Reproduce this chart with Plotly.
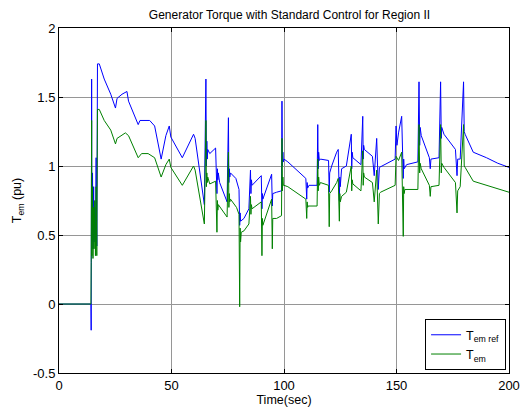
import plotly.graph_objects as go

# Time (sec) and torque (pu) readings for T_em ref (blue)
t_ref = [0, 14.2, 14.3, 14.5, 14.6, 14.9, 15.1, 15.4, 15.6, 15.9, 16.2, 16.5, 16.8, 17.1, 17.9,
         20.1, 23.0, 25.1, 25.8, 28.0, 30.2, 30.9, 35.2, 36.0, 40.3, 42.5, 45.4, 47.5, 49.0, 49.7,
         54.8, 59.8, 60.5, 64.6, 65.3, 65.5, 65.7, 65.9, 66.1, 67.0, 69.6, 70.2, 70.4, 70.6, 70.8,
         71.4, 74.7, 75.3, 75.5, 75.7, 75.9, 76.2, 78.6, 80.0, 80.3, 80.5, 80.7, 82.2, 84.4, 85.1,
         85.3, 85.5, 85.8, 89.9, 90.2, 90.4, 90.6, 94.5, 94.8, 95.0, 96.7, 98.9, 99.1, 99.3, 99.5,
         99.7, 100.0, 101.7, 109.7, 110.1, 110.3, 110.5, 111.1, 114.7, 115.0, 115.2, 115.4, 115.7,
         116.2, 119.8, 120.1, 120.3, 121.2, 123.4, 124.1, 124.6, 124.8, 125.0, 125.6, 127.7, 129.9,
         130.1, 130.3, 130.6, 134.2, 135.0, 135.2, 135.4, 135.7, 139.3, 140.1, 141.2, 141.9, 142.1,
         142.4, 149.4, 149.8, 150.2, 150.9, 152.3, 153.0, 153.2, 153.4, 154.5, 159.5, 160.0, 160.3,
         160.5, 161.0, 164.6, 165.0, 165.3, 168.9, 169.6, 169.9, 170.1, 171.1, 176.2, 176.9, 177.2,
         178.3, 179.8, 180.1, 180.5, 184.1, 190.0, 195.0, 200.0]
v_ref = [0, 0, -0.19, 1.63, 0.45, 0.95, 0.40, 0.85, 0.45, 0.70, 0.45, 1.06, 0.42, 1.74, 1.74,
         1.63, 1.52, 1.42, 1.49, 1.52, 1.54, 1.47, 1.30, 1.33, 1.33, 1.29, 1.05, 1.22, 1.29, 1.21,
         1.06, 1.23, 1.20, 0.72, 1.63, 1.00, 1.18, 1.05, 1.12, 1.09, 1.13, 0.80, 0.98, 0.90, 0.95,
         0.88, 0.74, 1.35, 0.88, 0.98, 0.92, 0.95, 0.91, 0.83, 0.57, 0.66, 0.60, 0.62, 0.69, 0.97,
         0.80, 0.90, 0.86, 0.93, 0.69, 0.80, 0.76, 0.94, 0.71, 0.80, 0.81, 0.82, 1.47, 1.00, 1.10,
         1.03, 1.05, 1.03, 0.91, 0.76, 0.88, 0.84, 0.86, 0.86, 1.30, 0.98, 1.10, 1.04,
         1.05, 1.04, 0.81, 0.95, 1.00, 1.10, 1.12, 0.75, 0.92, 0.85, 0.98, 1.00, 1.23,
         0.98, 1.10, 1.06, 1.01, 1.36, 1.05, 1.15, 1.12, 1.07, 0.93, 1.20, 0.83, 0.95,
         0.99, 1.05, 1.29, 1.15, 1.24, 1.36, 0.91, 1.05, 0.98, 1.01, 1.03, 1.61, 1.15,
         1.28, 1.22, 1.06, 0.98, 1.05, 1.06, 1.61, 1.20, 1.28, 1.23, 1.12, 0.93, 1.05,
         1.05, 1.61, 1.25, 1.23, 1.10, 1.06, 1.02, 0.99]

# Time (sec) and torque (pu) readings for T_em (green)
t_em = [0, 14.2, 14.3, 14.5, 14.6, 14.9, 15.1, 15.4, 15.6, 15.9, 16.2, 16.5, 16.8, 17.1, 17.9,
        20.1, 23.0, 25.1, 25.8, 29.5, 30.9, 35.2, 36.7, 39.6, 42.5, 45.4, 47.5, 49.0, 49.7,
        54.8, 59.8, 60.5, 64.6, 65.3, 65.5, 65.7, 65.9, 66.1, 67.0, 69.6, 70.2, 70.4, 70.6, 70.8,
        74.7, 75.3, 75.5, 75.7, 75.9, 76.2, 78.9, 80.0, 80.3, 80.5, 80.7, 81.0, 82.2, 84.4, 85.1,
        85.3, 85.5, 85.8, 89.9, 90.2, 90.4, 90.6, 94.5, 94.8, 95.0, 96.7, 98.9, 99.1, 99.3, 99.5,
        99.7, 100.0, 101.7, 109.7, 110.1, 110.3, 110.5, 110.7, 114.7, 115.0, 115.2, 115.4, 115.7,
        116.2, 119.8, 120.1, 120.3, 121.2, 123.4, 124.1, 124.6, 124.8, 125.0, 125.6, 127.7, 129.9,
        130.1, 130.3, 130.6, 134.2, 135.0, 135.2, 135.4, 135.7, 139.3, 140.1, 141.2, 141.9, 142.1,
        142.4, 142.9, 149.4, 149.8, 150.9, 152.3, 153.0, 153.2, 153.4, 153.7, 159.5, 160.0, 160.3,
        160.5, 161.0, 164.6, 165.0, 165.3, 168.9, 169.6, 169.9, 170.1, 171.1, 176.2, 176.9, 177.2,
        178.3, 179.8, 180.1, 180.5, 184.1, 190.0, 195.0, 200.0]
v_em = [0, 0, 0.30, 1.33, 0.35, 0.85, 0.33, 0.70, 0.40, 0.75, 0.35, 0.85, 0.35, 1.41, 1.41,
        1.33, 1.26, 1.16, 1.20, 1.24, 1.22, 1.06, 1.09, 1.09, 1.06, 0.92, 1.01, 1.05, 0.99,
        0.86, 1.00, 0.97, 0.58, 1.33, 0.85, 0.95, 0.88, 0.92, 0.87, 0.89, 0.52, 0.75, 0.68, 0.72,
        0.63, 1.10, 0.70, 0.80, 0.74, 0.76, 0.70, 0.65, -0.02, 0.55, 0.45, 0.52, 0.53, 0.58, 0.78,
        0.65, 0.72, 0.69, 0.74, 0.35, 0.62, 0.57, 0.76, 0.40, 0.62, 0.62, 0.64, 1.20, 0.82, 0.92,
        0.86, 0.86, 0.85, 0.76, 0.62, 0.74, 0.70, 0.71, 0.71, 1.05, 0.82, 0.92, 0.86,
        0.88, 0.86, 0.56, 0.80, 0.82, 0.88, 0.91, 0.60, 0.80, 0.74, 0.78, 0.81, 1.00,
        0.82, 0.90, 0.87, 0.82, 1.11, 0.86, 0.95, 0.92, 0.88, 0.74, 0.97, 0.58, 0.78,
        0.80, 0.81, 0.86, 1.07, 1.04, 1.10, 0.49, 0.85, 0.80, 0.83, 0.83, 1.30, 0.95,
        1.02, 0.98, 0.86, 0.78, 0.85, 0.86, 1.30, 0.95, 1.02, 0.99, 0.88, 0.66, 0.82,
        0.85, 1.30, 1.00, 0.99, 0.89, 0.86, 0.83, 0.81]

x_ticks = [0, 50, 100, 150, 200]
y_ticks = [-0.5, 0, 0.5, 1, 1.5, 2]
y_tick_text = ["-0.5", "0", "0.5", "1", "1.5", "2"]

FONT = "Liberation Sans, Arial, sans-serif"
L, R, T, B = 59, 11, 28, 40
W, H = 531, 414
plot_w = W - L - R
plot_h = H - T - B

fig = go.Figure()
fig.add_trace(go.Scatter(x=t_ref, y=v_ref, mode="lines", name="T<sub>em ref</sub>",
                         line=dict(color="#0000FF", width=1)))
fig.add_trace(go.Scatter(x=t_em, y=v_em, mode="lines", name="T<sub>em</sub>",
                         line=dict(color="#008000", width=1)))

axis_common = dict(showline=True, linecolor="black", linewidth=1, mirror="ticks",
                   ticks="inside", ticklen=4, tickcolor="black",
                   showgrid=True, gridcolor="rgb(150,150,150)", gridwidth=1,
                   zeroline=False, tickfont=dict(family=FONT, size=13, color="black"))

fig.update_layout(
    width=W, height=H,
    margin=dict(l=L, r=R, t=T, b=B),
    paper_bgcolor="white", plot_bgcolor="white",
    font=dict(family=FONT, size=12, color="black"),
    title=dict(text="Generator Torque with Standard Control for Region II",
               x=(L + W - R) / 2 / W, xanchor="center", y=1 - 15 / H, yanchor="middle",
               font=dict(family=FONT, size=12, color="black")),
    xaxis=dict(range=[0, 200], tickvals=x_ticks,
               title=dict(text="Time(sec)", standoff=2, font=dict(family=FONT, size=12.5)),
               **axis_common),
    yaxis=dict(range=[-0.5, 2], tickvals=y_ticks, ticktext=y_tick_text,
               title=dict(text="T<sub>em</sub> (pu)", standoff=8, font=dict(family=FONT, size=12.5)),
               **axis_common),
    legend=dict(x=(517 - L) / plot_w, y=(H - B - 320) / plot_h,
                xanchor="right", yanchor="top",
                bgcolor="white", bordercolor="black", borderwidth=1,
                itemwidth=30, tracegroupgap=0,
                font=dict(family=FONT, size=12.5, color="black")),
    showlegend=True,
)

fig.write_html("out.html")
